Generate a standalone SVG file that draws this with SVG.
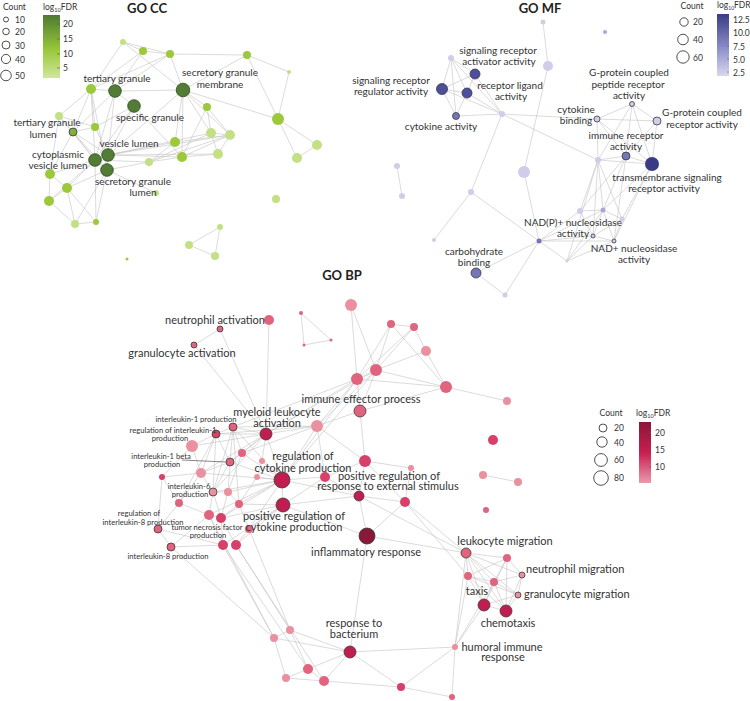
<svg xmlns="http://www.w3.org/2000/svg" width="750" height="701" viewBox="0 0 750 701">
<style>
text{font-family:Lato,"Open Sans","Liberation Sans",sans-serif;fill:#333}
.t{font-weight:bold;font-size:13px;text-anchor:middle;fill:#222}
.l{font-size:10px;text-anchor:middle}
.b{font-size:11px;text-anchor:middle}
.st{text-anchor:start}
.s{font-size:7.6px;text-anchor:middle}
.lg{font-size:8.5px}
.e{stroke:#c2c2c2;stroke-width:0.6;fill:none}
.o{stroke:#3a3a3a;stroke-width:0.8}
.lc{fill:#fff;stroke:#222;stroke-width:0.8}
.cd{fill:#537c36;stroke:#2f4a20;stroke-width:0.8}
.c1{fill:#9cc93c}
.c2{fill:#c4e085}
.c3{fill:#82b13a}
.md{fill:#4c4f9e}
.mn{fill:#393c85}
.mm{fill:#7376b8}
.ml{fill:#a9a7d6}
.mp{fill:#cfcdea}
.bm{fill:#8a1838}
.bc{fill:#c21d50}
.br{fill:#d8406a}
.bp{fill:#e0647e}
.bl{fill:#eb909f}
</style>
<defs>
<linearGradient id="gcc" x1="0" y1="0" x2="0" y2="1"><stop offset="0" stop-color="#4f7a32"/><stop offset="0.55" stop-color="#98c73a"/><stop offset="1" stop-color="#cfe79a"/></linearGradient>
<linearGradient id="gmf" x1="0" y1="0" x2="0" y2="1"><stop offset="0" stop-color="#3a3c86"/><stop offset="0.5" stop-color="#8486c4"/><stop offset="1" stop-color="#d9d7ef"/></linearGradient>
<linearGradient id="gbp" x1="0" y1="0" x2="0" y2="1"><stop offset="0" stop-color="#8a1838"/><stop offset="0.5" stop-color="#c81e50"/><stop offset="1" stop-color="#eb9aab"/></linearGradient>
</defs>
<rect width="750" height="701" fill="#fff"/>

<!-- titles -->
<text class="t" x="147" y="13">GO CC</text>
<text class="t" x="540" y="13">GO MF</text>
<text class="t" x="342" y="280">GO BP</text>

<!-- legends -->
<g id="legend-cc">
<text class="lg" x="3" y="10">Count</text>
<circle class="lc" cx="6" cy="19.5" r="2.5"/><text class="lg" x="15" y="23">10</text>
<circle class="lc" cx="6" cy="31.5" r="3.3"/><text class="lg" x="15" y="35">20</text>
<circle class="lc" cx="6" cy="45" r="4"/><text class="lg" x="15" y="49">30</text>
<circle class="lc" cx="6" cy="59" r="4.6"/><text class="lg" x="15" y="63">40</text>
<circle class="lc" cx="6" cy="75.5" r="5.3"/><text class="lg" x="15" y="79">50</text>
<text class="lg" x="43" y="10">log<tspan font-size="5.5" dy="2">10</tspan><tspan dy="-2">FDR</tspan></text>
<rect x="43" y="15" width="17" height="63" fill="url(#gcc)"/>
<path d="M57,24H60M57,39H60M57,54H60M57,68H60" stroke="#555" stroke-width="0.6"/>
<text class="lg" x="63" y="27">20</text><text class="lg" x="63" y="42">15</text><text class="lg" x="63" y="57">10</text><text class="lg" x="63" y="71">5</text>
</g>
<g id="legend-mf">
<text class="lg" x="692" y="9" text-anchor="middle">Count</text>
<circle class="lc" cx="684" cy="22" r="4.2"/><text class="lg" x="693" y="25">20</text>
<circle class="lc" cx="683" cy="39.5" r="5.3"/><text class="lg" x="693" y="43">40</text>
<circle class="lc" cx="683" cy="57" r="6.2"/><text class="lg" x="693" y="61">60</text>
<text class="lg" x="717" y="8" font-size="8">log<tspan font-size="5" dy="2">10</tspan><tspan dy="-2">FDR</tspan></text>
<rect x="717" y="14" width="12" height="62" fill="url(#gmf)"/>
<path d="M727,20H729M727,33H729M727,46H729M727,59H729M727,72H729" stroke="#666" stroke-width="0.6"/>
<text class="lg" x="733" y="23">12.5</text><text class="lg" x="733" y="36">10.0</text><text class="lg" x="733" y="50">7.5</text><text class="lg" x="733" y="63">5.0</text><text class="lg" x="733" y="76">2.5</text>
</g>
<g id="legend-bp">
<text class="lg" x="611" y="416" text-anchor="middle">Count</text>
<circle class="lc" cx="603" cy="428" r="4"/><text class="lg" x="614" y="431">20</text>
<circle class="lc" cx="602" cy="442" r="5.2"/><text class="lg" x="614" y="446">40</text>
<circle class="lc" cx="601" cy="460" r="6.4"/><text class="lg" x="614" y="463">60</text>
<circle class="lc" cx="601" cy="478" r="7.3"/><text class="lg" x="614" y="481">80</text>
<text class="lg" x="636" y="416">log<tspan font-size="5.5" dy="2">10</tspan><tspan dy="-2">FDR</tspan></text>
<rect x="639" y="422" width="12" height="61" fill="url(#gbp)"/>
<path d="M649,433H651M649,450H651M649,467H651" stroke="#555" stroke-width="0.6"/>
<text class="lg" x="655" y="436">20</text><text class="lg" x="655" y="453">15</text><text class="lg" x="655" y="470">10</text>
</g>

<!-- connectors -->
<g id="edges">
<path class="e" d="M123,42L143,51M123,42L170,54M123,42L91,89M123,42L183,90M143,51L170,54M143,51L91,89M143,51L115,91M170,54L247,55M170,54L183,90M170,54L115,91M170,54L91,89M247,55L289,72M247,55L183,90M247,55L278,119M289,72L278,119M183,90L278,119M278,119L317,145M278,119L297,158M317,145L297,158M115,91L183,90M91,89L115,91M91,89L59,116M91,89L73,132M91,89L95,160M115,91L134,106M115,91L108,155M115,91L95,160M115,91L73,132M183,90L207,107M183,90L211,133M183,90L230,135M183,90L175,142M183,90L182,157M183,90L108,155M134,106L108,155M134,106L95,160M134,106L95,127M134,106L182,157M59,116L73,132M59,116L95,127M59,116L95,160M95,127L73,132M95,127L108,155M73,132L95,160M73,132L50,174M73,132L108,155M73,132L107,170M108,155L95,160M108,155L107,170M95,160L107,170M108,155L182,157M108,155L175,142M108,155L218,154M108,155L230,135M95,160L149,162M107,170L149,162M107,170L156,193M107,170L75,224M107,170L96,222M95,160L50,174M95,160L67,188M95,160L49,201M50,174L67,188M50,174L49,201M67,188L49,201M67,188L75,224M49,201L75,224M67,188L96,222M75,224L96,222M175,142L149,162M175,142L230,135M211,133L230,135M211,133L218,154M230,135L218,154M230,135L182,157M182,157L149,162M182,157L218,154M207,107L211,133M207,107L230,135M207,107L182,157M149,162L211,133M149,162L230,135M108,155L211,133M59,116L50,174M107,170L67,188M189,245L215,256M189,245L220,227M220,227L215,256M91,89L95,127M91,89L107,170M95,160L96,222"/>
<path class="e" d="M543,22L548,66M548,66L524,172M524,172L539,241M451,58L475,74M451,58L442,89M451,58L467,93M451,58L502,114M451,58L456,116M475,74L442,89M475,74L467,93M475,74L502,114M442,89L467,93M442,89L456,116M442,89L502,114M467,93L456,116M467,93L502,114M456,116L502,114M502,114L597,119M502,114L598,160M502,114L471,192M471,192L539,241M471,192L434,240M539,241L476,273M476,273L505,295M505,295L539,241M397,166L402,196M597,119L632,104M597,119L657,121M597,119L598,160M597,119L626,156M597,119L652,164M632,104L657,121M632,104L598,160M632,104L626,156M632,104L652,164M657,121L652,164M657,121L626,156M598,160L626,156M598,160L652,164M626,156L652,164M598,160L580,211M598,160L603,210M598,160L622,219M598,160L593,236M598,160L567,261M626,156L603,210M626,156L580,211M626,156L614,241M652,164L622,219M652,164L603,210M652,164L614,241M580,211L603,210M580,211L539,241M580,211L593,236M603,210L622,219M603,210L593,236M603,210L614,241M603,210L567,261M622,219L614,241M622,219L593,236M539,241L593,236M539,241L614,241M539,241L567,261M539,241L603,210M567,261L593,236M567,261L614,241M593,236L614,241"/>
<path class="e" d="M269,320L266,434M220,329L266,434M194,345L266,434M220,329L194,345M301,313L304,345M304,345L331,340M301,313L331,340M351,305L376,370M351,305L357,379M391,324L414,327M391,324L376,370M391,324L357,379M414,327L376,370M414,327L426,351M414,327L357,379M426,351L446,387M426,351L376,370M376,370L357,379M376,370L446,387M357,379L446,387M446,387L507,401M376,370L360,411M357,379L360,411M357,379L317,426M376,370L317,426M357,379L266,434M376,370L266,434M360,411L317,426M360,411L365,461M360,411L446,387M391,324L446,387M317,426L266,434M317,426L282,480M317,426L365,461M317,426L325,477M317,426L242,453M317,426L216,434M365,461L411,468M365,461L359,496M365,461L325,477M365,461L405,502M325,477L359,496M325,477L282,480M325,477L283,505M282,480L283,505M282,480L359,496M282,480L266,434M282,480L242,453M282,480L230,462M282,480L262,461M282,480L257,477M282,480L201,473M282,480L233,427M283,505L359,496M283,505L367,536M283,505L239,504M283,505L249,529M359,496L367,536M359,496L405,502M405,502L466,553M367,536L466,553M367,536L350,652M359,496L466,553M405,502L468,576M411,468L405,502M357,379L282,480M357,379L233,427M376,370L282,480M266,434L233,427M266,434L216,434M266,434L242,453M266,434L230,462M266,434L192,446M233,427L216,434M233,427L230,462M233,427L242,453M216,434L192,446M216,434L230,462M216,434L201,473M216,434L213,492M216,434L179,503M233,427L213,492M233,427L239,504M192,446L201,473M192,446L162,477M242,453L230,462M242,453L228,492M230,462L213,492M230,462L228,492M230,462L201,473M201,473L162,477M201,473L213,492M201,473L179,503M162,477L179,503M162,477L158,529M213,492L228,492M213,492L209,515M213,492L221,518M228,492L239,504M228,492L221,518M179,503L209,515M179,503L158,529M239,504L221,518M239,504L249,529M209,515L221,518M209,515L223,545M221,518L223,545M221,518L236,545M249,529L236,545M158,529L171,547M158,529L223,545M171,547L223,545M209,515L171,547M262,461L257,477M257,477L239,504M283,505L221,518M283,505L236,545M282,480L213,492M282,480L228,492M266,434L262,461M282,480L239,504M282,480L221,518M282,480L209,515M266,434L201,473M266,434L213,492M283,505L223,545M282,480L249,529M223,545L274,638M223,545L308,669M236,545L290,630M236,545L324,681M209,515L274,638M249,529L290,630M171,547L274,638M290,630L274,638M290,630L308,669M290,630L350,652M274,638L350,652M274,638L286,678M308,669L324,681M308,669L350,652M286,678L324,681M308,669L286,678M324,681L350,652M324,681L401,687M350,652L401,687M401,687L452,697M455,647L350,652M455,647L452,697M455,647L401,687M455,647L466,553M455,647L484,605M455,647L468,576M455,647L494,582M466,553L507,558M466,553L468,576M466,553L494,582M466,553L522,575M466,553L518,595M466,553L484,605M466,553L506,611M507,558L468,576M507,558L494,582M507,558L522,575M507,558L484,605M507,558L506,611M468,576L494,582M468,576L518,595M468,576L484,605M468,576L506,611M494,582L522,575M494,582L518,595M494,582L484,605M494,582L506,611M522,575L518,595M522,575L506,611M518,595L484,605M518,595L506,611M484,605L506,611M483,475L518,482M367,536L405,502M317,426L233,427"/>
<path d="M182,460L226,462" stroke="#555" stroke-width="0.7" fill="none"/>
</g>

<!-- GO CC nodes -->
<g id="cc-nodes">
<circle id="cc1" class="c2" cx="123" cy="42" r="3"/>
<circle id="cc2" class="c1" cx="143" cy="51" r="4"/>
<circle id="cc3" class="c1" cx="170" cy="54" r="4"/>
<circle id="cc4" class="c1" cx="247" cy="55" r="4"/>
<circle id="cc5" class="c2" cx="289" cy="72" r="2"/>
<circle id="cc6" class="c1" cx="91" cy="89" r="5"/>
<circle id="cc10" class="c1" cx="207" cy="107" r="4"/>
<circle id="cc11" class="c2" cx="59" cy="116" r="4"/>
<circle id="cc12" class="c1" cx="95" cy="127" r="4"/>
<circle id="cc14" class="c1" cx="278" cy="119" r="6"/>
<circle id="cc15" class="c2" cx="211" cy="133" r="5"/>
<circle id="cc16" class="c2" cx="230" cy="135" r="5"/>
<circle id="cc17" class="c2" cx="317" cy="145" r="5"/>
<circle id="cc18" class="c1" cx="175" cy="142" r="5"/>
<circle id="cc22" class="c2" cx="149" cy="162" r="4"/>
<circle id="cc23" class="c1" cx="182" cy="157" r="5"/>
<circle id="cc24" class="c2" cx="218" cy="154" r="5"/>
<circle id="cc25" class="c2" cx="297" cy="158" r="5"/>
<circle id="cc26" class="c1" cx="50" cy="174" r="5"/>
<circle id="cc27" class="c1" cx="67" cy="188" r="5"/>
<circle id="cc28" class="c1" cx="49" cy="201" r="5"/>
<circle id="cc29" class="c2" cx="156" cy="193" r="3"/>
<circle id="cc30" class="c2" cx="276" cy="199" r="4"/>
<circle id="cc31" class="c2" cx="75" cy="224" r="4"/>
<circle id="cc32" class="c1" cx="96" cy="222" r="3"/>
<circle id="cc33" class="c2" cx="220" cy="227" r="3"/>
<circle id="cc34" class="c2" cx="189" cy="245" r="4"/>
<circle id="cc35" class="c2" cx="215" cy="256" r="4"/>
<circle id="cc36" class="c1" cx="127" cy="259" r="1.5"/>
<g id="cc-tertiary-granule"><circle class="cd" cx="115" cy="91" r="6.3"/><text class="l" x="117" y="82">tertiary granule</text></g>
<g id="cc-secretory-granule-membrane"><circle class="cd" cx="183" cy="90" r="6.8"/><text class="l" x="220" y="76">secretory granule</text><text class="l" x="220" y="88">membrane</text></g>
<g id="cc-specific-granule"><circle class="cd" cx="134" cy="106" r="6.3"/><text class="l" x="150" y="121">specific granule</text></g>
<g id="cc-tertiary-granule-lumen"><circle class="c3 o" cx="73" cy="132" r="4"/><text class="l" x="47" y="126">tertiary granule</text><text class="l" x="43" y="138">lumen</text></g>
<g id="cc-vesicle-lumen"><circle class="cd" cx="108" cy="155" r="6.3"/><text class="l" x="129" y="147">vesicle lumen</text></g>
<g id="cc-cytoplasmic-vesicle-lumen"><circle class="cd" cx="95" cy="160" r="6.3"/><text class="l" x="58" y="158">cytoplasmic</text><text class="l" x="58" y="169">vesicle lumen</text></g>
<g id="cc-secretory-granule-lumen"><circle class="cd" cx="107" cy="170" r="6.3"/><text class="l" x="133" y="185">secretory granule</text><text class="l" x="143" y="196">lumen</text></g>
</g>

<!-- GO MF nodes -->
<g id="mf-nodes">
<circle id="mf1" class="mp" cx="543" cy="22" r="2.5"/>
<circle id="mf2" class="ml" cx="605" cy="32" r="2"/>
<circle id="mf3" class="mp" cx="451" cy="58" r="3"/>
<circle id="mf4" class="mp" cx="548" cy="66" r="5"/>
<circle id="mf9" class="mp" cx="502" cy="114" r="3"/>
<circle id="mf13" class="mp" cx="598" cy="160" r="3"/>
<circle id="mf16" class="mp" cx="397" cy="166" r="3"/>
<circle id="mf17" class="mp" cx="402" cy="196" r="3"/>
<circle id="mf18" class="mp" cx="524" cy="172" r="6"/>
<circle id="mf19" class="mp" cx="471" cy="192" r="3"/>
<circle id="mf20" class="mp" cx="580" cy="211" r="3"/>
<circle id="mf21" class="ml" cx="603" cy="210" r="2.5"/>
<circle id="mf22" class="mp" cx="622" cy="219" r="2.5"/>
<circle id="mf23" class="mm" cx="539" cy="241" r="2.5"/>
<circle id="mf26" class="mp" cx="434" cy="240" r="2"/>
<circle id="mf27" class="mp" cx="567" cy="261" r="1.5"/>
<circle id="mf29" class="mp" cx="505" cy="295" r="2.5"/>
<g id="mf-sig-activator"><circle class="md o" cx="475" cy="74" r="5"/><text class="l" x="498" y="54">signaling receptor</text><text class="l" x="499" y="65">activator activity</text></g>
<g id="mf-sig-regulator"><circle class="md o" cx="442" cy="89" r="5.5"/><text class="l" x="391" y="84">signaling receptor</text><text class="l" x="391" y="95">regulator activity</text></g>
<g id="mf-receptor-ligand"><circle class="md o" cx="467" cy="93" r="5"/><text class="l" x="510" y="89">receptor ligand</text><text class="l" x="511" y="100">activity</text></g>
<g id="mf-cytokine-activity"><circle class="mm o" cx="456" cy="116" r="3.5"/><text class="l" x="441" y="130">cytokine activity</text></g>
<g id="mf-gpcr-peptide"><circle class="mp o" cx="632" cy="104" r="2.5"/><text class="l" x="629" y="76">G-protein coupled</text><text class="l" x="628" y="88">peptide receptor</text><text class="l" x="629" y="99">activity</text></g>
<g id="mf-cytokine-binding"><circle class="mp o" cx="597" cy="119" r="3"/><text class="l" x="576" y="113">cytokine</text><text class="l" x="576" y="124">binding</text></g>
<g id="mf-gpcr"><circle class="mp o" cx="657" cy="121" r="4"/><text class="l" x="702" y="116">G-protein coupled</text><text class="l" x="702" y="128">receptor activity</text></g>
<g id="mf-immune-receptor"><circle class="mm o" cx="626" cy="156" r="4"/><text class="l" x="626" y="139">immune receptor</text><text class="l" x="626" y="150">activity</text></g>
<g id="mf-transmembrane"><circle class="mn" cx="652" cy="164" r="7"/><text class="l" x="667" y="181">transmembrane signaling</text><text class="l" x="664" y="192">receptor activity</text></g>
<g id="mf-nadp"><circle class="mp o" cx="593" cy="236" r="2"/><text class="l" x="573" y="226">NAD(P)+ nucleosidase</text><text class="l" x="573" y="237">activity</text></g>
<g id="mf-nad"><circle class="mp o" cx="614" cy="241" r="2"/><text class="l" x="634" y="252">NAD+ nucleosidase</text><text class="l" x="634" y="263">activity</text></g>
<g id="mf-carbohydrate"><circle class="mm o" cx="476" cy="273" r="5"/><text class="l" x="474" y="255">carbohydrate</text><text class="l" x="474" y="266">binding</text></g>
</g>

<!-- GO BP nodes -->
<g id="bp-nodes">
<circle class="bp" cx="301" cy="313" r="2"/>
<circle class="bp" cx="304" cy="345" r="1.5"/>
<circle class="bp" cx="331" cy="340" r="1.5"/>
<circle class="bl" cx="351" cy="305" r="6"/>
<circle class="bp" cx="391" cy="324" r="4"/>
<circle class="bp" cx="414" cy="327" r="4"/>
<circle class="bl" cx="426" cy="351" r="5"/>
<circle class="bp" cx="376" cy="370" r="6"/>
<circle class="bp" cx="357" cy="379" r="6"/>
<circle class="bp" cx="446" cy="387" r="6"/>
<circle class="bl" cx="507" cy="401" r="4"/>
<circle class="bl" cx="317" cy="426" r="6"/>
<circle class="bl" cx="192" cy="446" r="6"/>
<circle class="bp" cx="242" cy="453" r="4"/>
<circle class="bl" cx="262" cy="461" r="3"/>
<circle class="bl" cx="201" cy="473" r="5"/>
<circle class="br" cx="162" cy="477" r="3"/>
<circle class="br" cx="325" cy="477" r="5"/>
<circle class="br" cx="365" cy="461" r="6"/>
<circle class="bl" cx="411" cy="468" r="3"/>
<circle class="bl" cx="228" cy="492" r="4"/>
<circle class="bl" cx="257" cy="477" r="3"/>
<circle class="bp" cx="179" cy="503" r="4"/>
<circle class="bp" cx="239" cy="504" r="4"/>
<circle class="bp" cx="209" cy="515" r="5"/>
<circle class="br" cx="221" cy="518" r="5"/>
<circle class="bp" cx="249" cy="529" r="4"/>
<circle class="br" cx="223" cy="545" r="5"/>
<circle class="br" cx="236" cy="545" r="5"/>
<circle class="br" cx="405" cy="502" r="5"/>
<circle class="bp" cx="486" cy="510" r="3"/>
<circle class="br" cx="493" cy="440" r="5"/>
<circle class="bl" cx="483" cy="475" r="4"/>
<circle class="bl" cx="518" cy="482" r="4"/>
<circle class="bp" cx="507" cy="558" r="4"/>
<circle class="bp" cx="468" cy="576" r="4"/>
<circle class="bp" cx="494" cy="582" r="4"/>
<circle class="bl" cx="455" cy="647" r="3"/>
<circle class="br" cx="401" cy="687" r="4"/>
<circle class="bp" cx="452" cy="697" r="3"/>
<circle class="bl" cx="290" cy="630" r="4"/>
<circle class="bl" cx="274" cy="638" r="4"/>
<circle class="bp" cx="308" cy="669" r="5"/>
<circle class="bl" cx="286" cy="678" r="4"/>
<circle class="bp" cx="324" cy="681" r="5"/>
<g id="bp-neutrophil-activation"><circle class="bp" cx="269" cy="320" r="5"/><text class="b" x="215" y="324">neutrophil activation</text></g>
<g id="bp-granulocyte-activation"><circle class="bp o" cx="220" cy="329" r="3"/><circle class="bp o" cx="194" cy="345" r="3"/><text class="b" x="182" y="357">granulocyte activation</text></g>
<g id="bp-immune-effector"><circle class="bp o" cx="360" cy="411" r="6"/><text class="b" x="361" y="403">immune effector process</text></g>
<g id="bp-myeloid"><circle class="bc o" cx="266" cy="434" r="6"/><text class="b" x="277" y="416">myeloid leukocyte</text><text class="b" x="277" y="427">activation</text></g>
<g id="bp-il1"><circle class="bp o" cx="233" cy="427" r="4"/><text class="s" x="196" y="422">interleukin-1 production</text></g>
<g id="bp-reg-il1"><circle class="br o" cx="216" cy="434" r="4"/><text class="s" x="173" y="433">regulation of interleukin-1</text><text class="s" x="170" y="441">production</text></g>
<g id="bp-il1b"><circle class="bp o" cx="230" cy="462" r="4"/><text class="s" x="161" y="459">interleukin-1 beta</text><text class="s" x="162" y="467">production</text></g>
<g id="bp-reg-cytokine"><circle class="bc o" cx="282" cy="480" r="8"/><text class="b" x="303" y="460">regulation of</text><text class="b" x="303" y="472">cytokine production</text></g>
<g id="bp-il6"><circle class="bl o" cx="213" cy="492" r="4"/><text class="s" x="189" y="489">interleukin-6</text><text class="s" x="190" y="497">production</text></g>
<g id="bp-pos-reg-cytokine"><circle class="bc o" cx="283" cy="505" r="7"/><text class="b" x="294" y="520">positive regulation of</text><text class="b" x="294" y="531">cytokine production</text></g>
<g id="bp-reg-il8"><circle class="bp o" cx="158" cy="529" r="4"/><text class="s" x="139" y="516">regulation of</text><text class="s" x="143" y="525">interleukin-8 production</text></g>
<g id="bp-tnf"><text class="s" x="207" y="530">tumor necrosis factor</text><text class="s" x="208" y="538">production</text></g>
<g id="bp-il8"><circle class="bp o" cx="171" cy="547" r="4"/><text class="s" x="168" y="559">interleukin-8 production</text></g>
<g id="bp-pos-reg-ext"><circle class="bc o" cx="359" cy="496" r="5"/><text class="b" x="389" y="480">positive regulation of</text><text class="b" x="388" y="490">response to external stimulus</text></g>
<g id="bp-inflammatory"><circle class="bm o" cx="367" cy="536" r="8"/><text class="b" x="366" y="556">inflammatory response</text></g>
<g id="bp-leukocyte-migration"><circle class="bp o" cx="466" cy="553" r="5"/><text class="b" x="505" y="545">leukocyte migration</text></g>
<g id="bp-neutrophil-migration"><circle class="bl o" cx="522" cy="575" r="3"/><text class="b st" x="526" y="573">neutrophil migration</text></g>
<g id="bp-granulocyte-migration"><circle class="bl o" cx="518" cy="595" r="3"/><text class="b st" x="524" y="598">granulocyte migration</text></g>
<g id="bp-taxis"><circle class="bc o" cx="484" cy="605" r="6"/><text class="b" x="477" y="595">taxis</text></g>
<g id="bp-chemotaxis"><circle class="bc o" cx="506" cy="611" r="6"/><text class="b" x="508" y="627">chemotaxis</text></g>
<g id="bp-humoral"><text class="b" x="502" y="651">humoral immune</text><text class="b" x="503" y="661">response</text></g>
<g id="bp-bacterium"><circle class="bc o" cx="350" cy="652" r="6"/><text class="b" x="354" y="627">response to</text><text class="b" x="354" y="638">bacterium</text></g>
</g>
</svg>
